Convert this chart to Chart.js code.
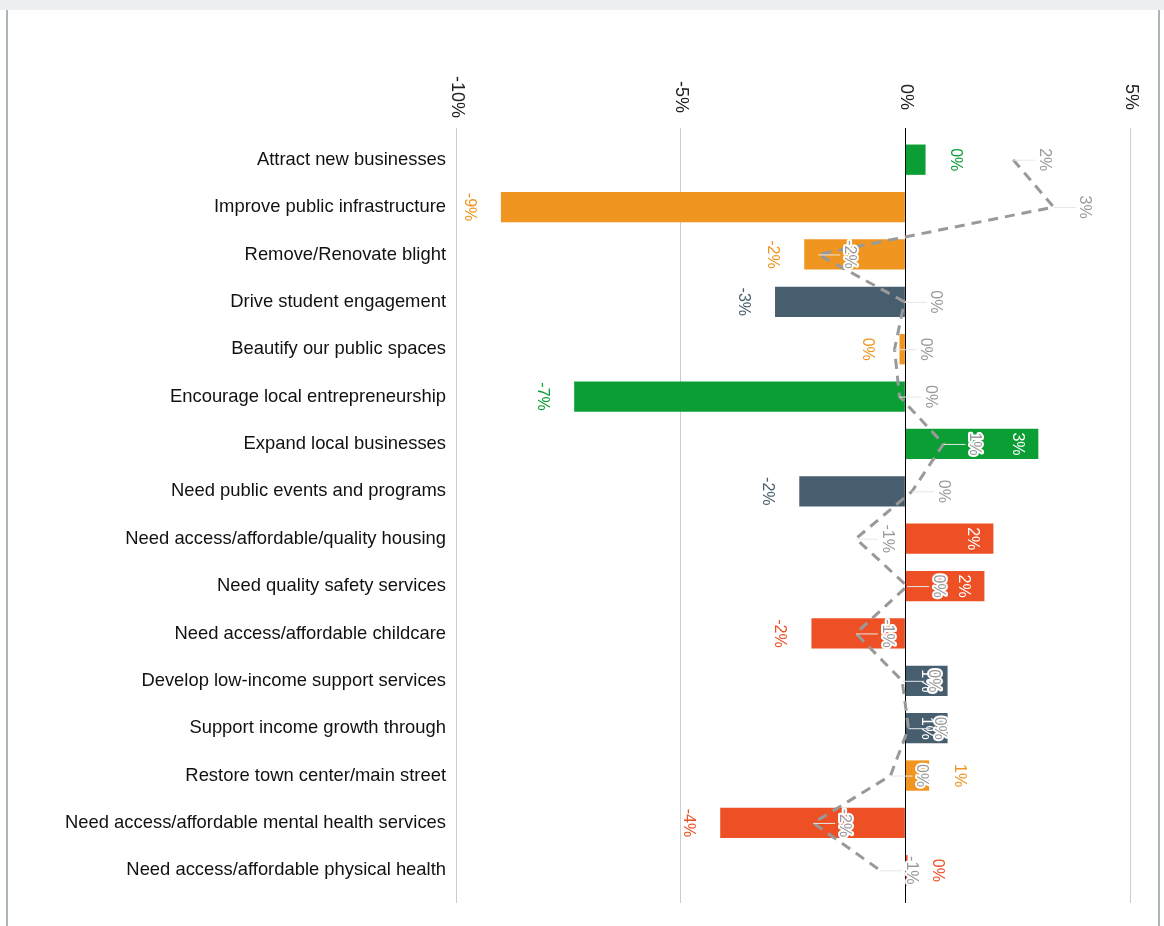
<!DOCTYPE html>
<html>
<head>
<meta charset="utf-8">
<script src="https://cdn.jsdelivr.net/npm/chart.js@4.4.1/dist/chart.umd.min.js"></script>
<style>
    html, body { margin: 0; padding: 0; background: #fff; }
    #wrap { position: relative; width: 1164px; height: 926px; overflow: hidden; }
    #topo { position: absolute; left: 0; top: 0; width: 1164px; height: 10px; background: #eceef0; }
    .borda { position: absolute; top: 10px; width: 2px; height: 916px; background: #aab5bb; }
    canvas { position: absolute; left: 0; top: 0; }
</style>
</head>
<body>
<div id="wrap">
    <canvas id="grafico" width="1164" height="926"></canvas>
    <div id="topo"></div>
    <div class="borda" style="left:6px"></div>
    <div class="borda" style="left:1158px"></div>
</div>
<script>
const categorias = [
    "Attract new businesses",
    "Improve public infrastructure",
    "Remove/Renovate blight",
    "Drive student engagement",
    "Beautify our public spaces",
    "Encourage local entrepreneurship",
    "Expand local businesses",
    "Need public events and programs",
    "Need access/affordable/quality housing",
    "Need quality safety services",
    "Need access/affordable childcare",
    "Develop low-income support services",
    "Support income growth through",
    "Restore town center/main street",
    "Need access/affordable mental health services",
    "Need access/affordable physical health"
];

const valoresBarra = [0.45, -9.0, -2.25, -2.9, -0.13, -7.37, 2.96, -2.36, 1.96, 1.76, -2.09, 0.94, 0.94, 0.53, -4.12, 0.05];
const valoresLinha = [2.4, 3.3, -1.94, -0.02, -0.24, -0.13, 0.85, 0.15, -1.1, 0.04, -1.1, -0.07, 0.07, -0.33, -2.05, -0.56];
const ticksX = [-10, -5, 0, 5];

const VERDE = "#0a9e34";
const LARANJA = "#f0951f";
const ARDOSIA = "#465e6e";
const VERMELHO = "#ee5026";
const coresBarra = [VERDE, LARANJA, LARANJA, ARDOSIA, LARANJA, VERDE, VERDE, ARDOSIA,
    VERMELHO, VERMELHO, VERMELHO, ARDOSIA, ARDOSIA, LARANJA, VERMELHO, VERMELHO];

const FONTE = "'Liberation Sans', Arial, sans-serif";
const pct = v => Math.round(v) + "%";
const alinhar = px => Math.round(px - 0.5) + 0.5;

function textoGirado(ctx, txt, x, y, cor, contorno) {
    ctx.save();
    ctx.translate(x, y);
    ctx.rotate(Math.PI / 2);
    ctx.textAlign = "center";
    ctx.textBaseline = "middle";
    if (contorno) {
        ctx.lineWidth = 4;
        ctx.lineJoin = "round";
        ctx.strokeStyle = "#fff";
        ctx.strokeText(txt, 0, 0);
    }
    ctx.fillStyle = cor;
    ctx.fillText(txt, 0, 0);
    ctx.restore();
}

// grade estendida e rotulos do eixo x (girados no sentido horario)
const eixoTopo = {
    id: "eixoTopo",
    afterDraw(chart) {
        const ctx = chart.ctx;
        const x = chart.scales.x;
        const area = chart.chartArea;
        ctx.save();
        ticksX.forEach(t => {
            const px = alinhar(x.getPixelForValue(t));
            ctx.strokeStyle = t === 0 ? "#000" : "#ccc";
            ctx.lineWidth = 1;
            ctx.beginPath();
            ctx.moveTo(px, area.bottom);
            ctx.lineTo(px, area.bottom + 9);
            ctx.stroke();
            ctx.font = "18px " + FONTE;
            textoGirado(ctx, t + "%", px, 97, "#222", false);
        });
        ctx.restore();
    }
};

const rotulos = {
    id: "rotulos",
    afterDatasetsDraw(chart) {
        const ctx = chart.ctx;
        ctx.save();
        ctx.font = "16px " + FONTE;

        const barras = chart.getDatasetMeta(0).data;
        barras.forEach((el, i) => {
            const v = valoresBarra[i];
            const comp = Math.abs(el.x - el.base);
            if (v >= 0 && comp > 35) {
                textoGirado(ctx, pct(v), el.x - 21, el.y, "#fff", false);
            } else if (v >= 0) {
                textoGirado(ctx, pct(v), el.x + 30, el.y, coresBarra[i], false);
            } else {
                textoGirado(ctx, pct(v), el.x - 32, el.y, coresBarra[i], false);
            }
        });

        const pontos = chart.getDatasetMeta(1).data;
        pontos.forEach((el, i) => {
            ctx.strokeStyle = "#e6e6e6";
            ctx.lineWidth = 1;
            ctx.beginPath();
            ctx.moveTo(el.x, el.y + 0.5);
            ctx.lineTo(el.x + 22, el.y + 0.5);
            ctx.stroke();
            textoGirado(ctx, pct(valoresLinha[i]), el.x + 31, el.y, "#9a9a9a", true);
        });
        ctx.restore();
    }
};

new Chart(document.getElementById("grafico"), {
    type: "bar",
    data: {
        labels: categorias,
        datasets: [
            {
                type: "bar",
                label: "Atual",
                data: valoresBarra,
                backgroundColor: coresBarra,
                borderWidth: 0,
                categoryPercentage: 1,
                barPercentage: 0.64,
                order: 2
            },
            {
                type: "line",
                label: "Referencia",
                indexAxis: "y",
                data: valoresLinha,
                borderColor: "#999",
                borderWidth: 3,
                borderDash: [10, 7],
                pointRadius: 0,
                tension: 0,
                fill: false,
                order: 1
            }
        ]
    },
    options: {
        indexAxis: "y",
        responsive: false,
        animation: false,
        layout: { padding: { left: 0, right: 34, top: 0, bottom: 32 } },
        plugins: { legend: { display: false }, tooltip: { enabled: false } },
        scales: {
            x: {
                position: "top",
                min: -10,
                max: 5,
                afterBuildTicks: s => { s.ticks = ticksX.map(v => ({ value: v })); },
                ticks: { display: false },
                grid: {
                    color: c => (c.tick && c.tick.value === 0) ? "#000" : "#ccc",
                    lineWidth: 1,
                    drawTicks: true,
                    tickLength: 8
                },
                border: { display: false },
                afterFit: s => { s.height = 136; }
            },
            y: {
                grid: { display: false, drawTicks: false },
                border: { display: false },
                ticks: {
                    color: "#111",
                    padding: 10,
                    autoSkip: false,
                    font: { family: FONTE, size: 18.4 }
                },
                afterFit: s => { s.width = 456; }
            }
        }
    },
    plugins: [eixoTopo, rotulos]
});
</script>
</body>
</html>
